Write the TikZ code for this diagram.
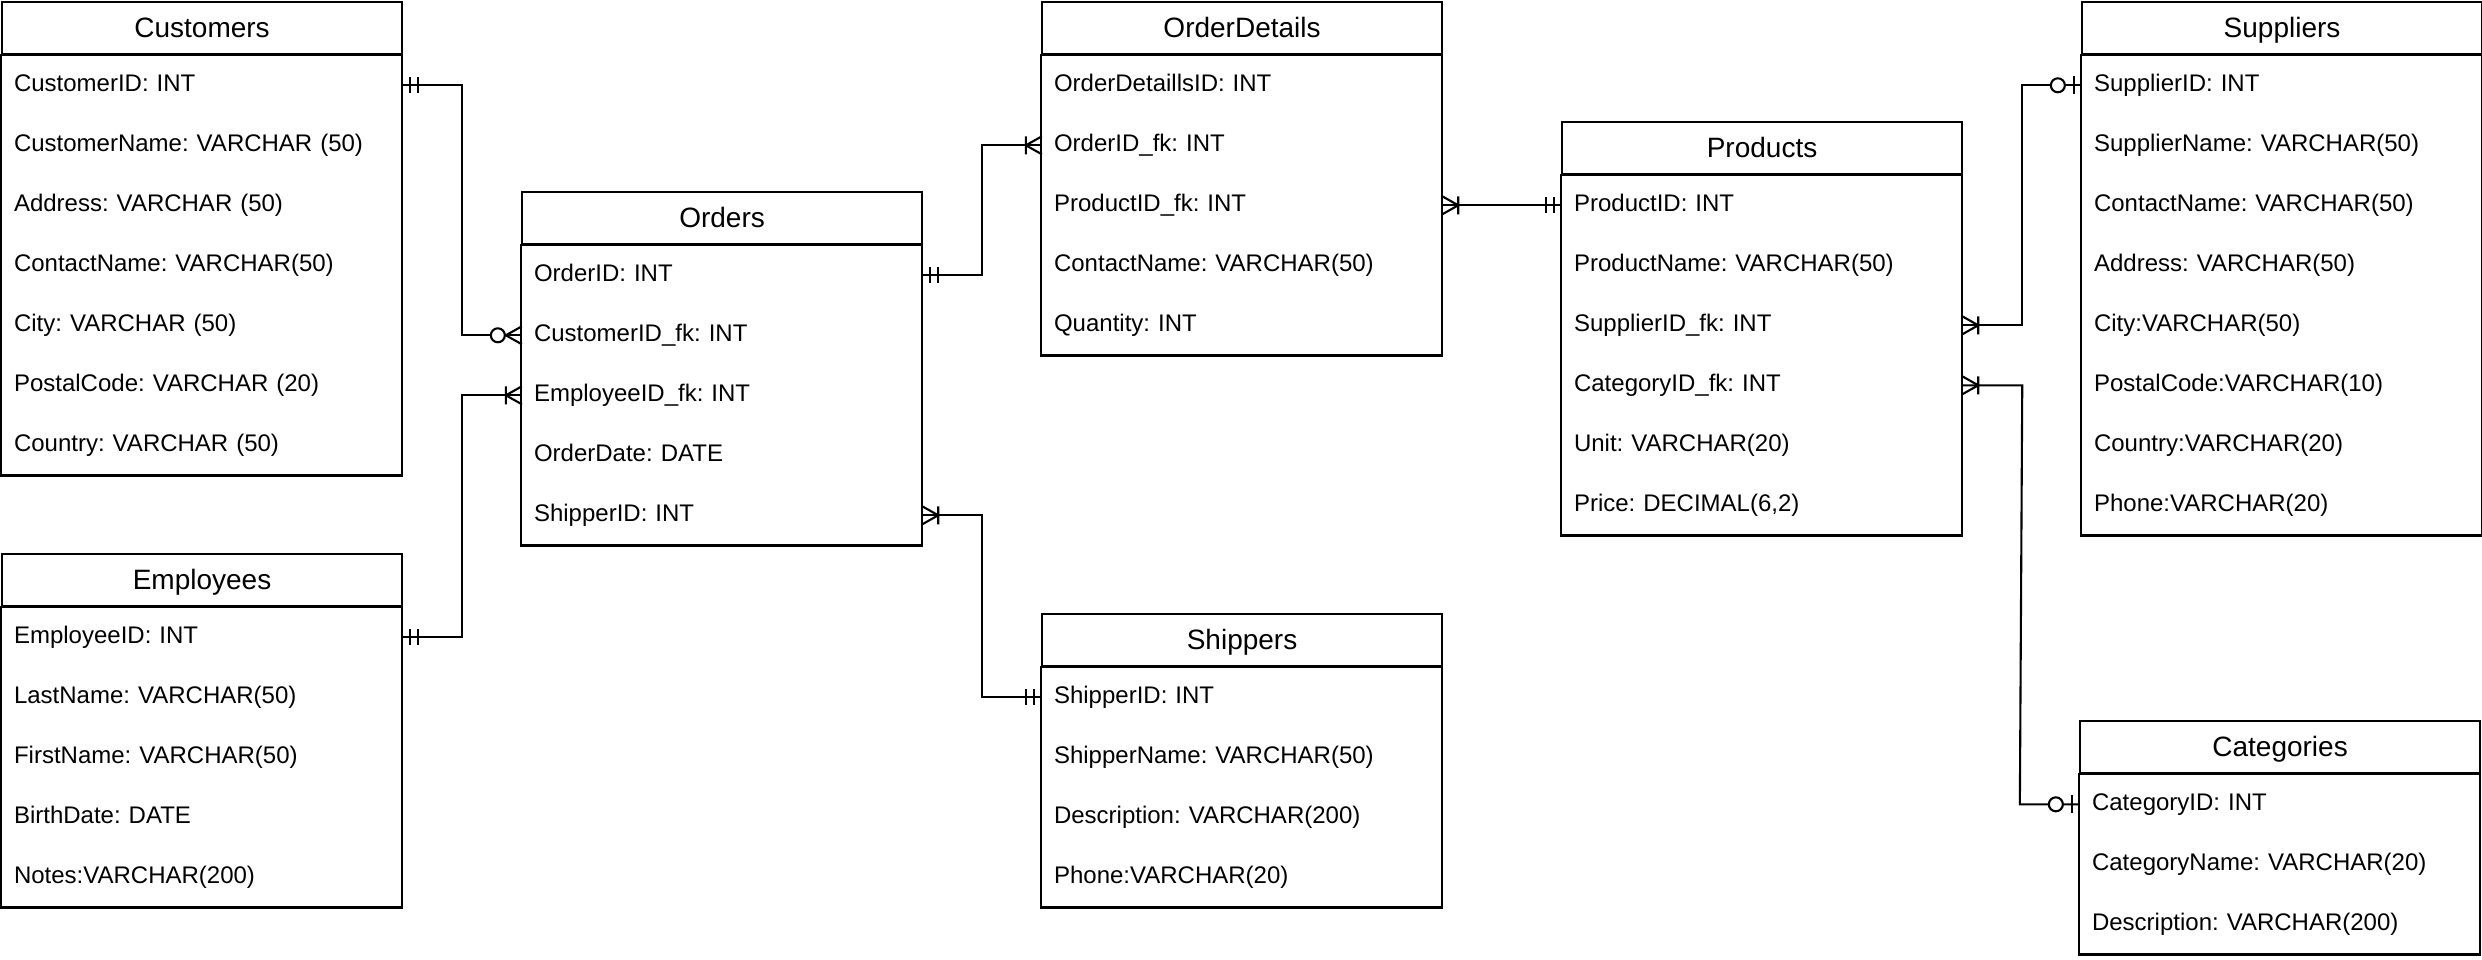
\documentclass[tikz,border=0pt]{standalone}
\usepackage{fontspec}
\setmainfont{Liberation Sans}
\usetikzlibrary{positioning}
\frenchspacing

\tikzset{
  link/.style={line width=2.1pt},
  tabhead/.style={draw, link, minimum width=400pt, minimum height=52pt, inner sep=0pt,
    anchor=north west, font=\fontsize{28}{32}\selectfont, text height=20pt, text depth=1pt},
  tabrow/.style={minimum height=60pt, text width=376pt, inner xsep=12pt, inner ysep=0pt,
    align=left, font=\fontsize{24}{28}\selectfont, text height=17pt, text depth=4pt},
  % crow's foot ends, drawn pointing away from the table
  mandone/.pic={\draw[link] (8,-8) -- (8,8) (16,-8) -- (16,8);},
  onemany/.pic={\draw[link] (0,-9) -- (16,0) -- (0,9) (16,-9) -- (16,9);},
  zeromany/.pic={\draw[link] (0,-9) -- (16,0) -- (0,9); \draw[link,fill=white] (24,0) circle (7);},
  zeroone/.pic={\draw[link] (8,-9) -- (8,9); \draw[link,fill=white] (24,0) circle (7);},
}

% name, title, top left, number of rows, rows
\newcommand{\ertable}[5]{%
  \node[tabhead] (#1) at (#3) {#2};
  \foreach \field [count=\i] in {#5}
    \node[tabrow, anchor=north] (#1-\i) at ([yshift={-60*(\i-1)}]#1.south) {\field};
  \draw[link] (#1.south west) rectangle (#1-#4.south east);
}

\begin{document}
\begin{tikzpicture}[x=1pt,y=-1pt]
  \fill[white, use as bounding box] (0,0) rectangle (2482,960);

  \ertable{cust}{Customers}{1,1}{7}{CustomerID: INT, CustomerName: VARCHAR (50),
    Address: VARCHAR (50), ContactName: VARCHAR(50), City: VARCHAR (50),
    PostalCode: VARCHAR (20), Country: VARCHAR (50)}
  \ertable{emp}{Employees}{1,553}{5}{EmployeeID: INT, LastName: VARCHAR(50),
    FirstName: VARCHAR(50), BirthDate: DATE, Notes:VARCHAR(200)}
  \ertable{ord}{Orders}{521,191}{5}{OrderID: INT, CustomerID\_fk: INT,
    EmployeeID\_fk: INT, OrderDate: DATE, ShipperID: INT}
  \ertable{odet}{OrderDetails}{1041,1}{5}{OrderDetaillsID: INT, OrderID\_fk: INT,
    ProductID\_fk: INT, ContactName: VARCHAR(50), Quantity: INT}
  \ertable{ship}{Shippers}{1041,613}{4}{ShipperID: INT, ShipperName: VARCHAR(50),
    Description: VARCHAR(200), Phone:VARCHAR(20)}
  \ertable{prod}{Products}{1561,121}{6}{ProductID: INT, ProductName: VARCHAR(50),
    SupplierID\_fk: INT, CategoryID\_fk: INT, Unit: VARCHAR(20), {Price: DECIMAL(6,2)}}
  \ertable{supp}{Suppliers}{2081,1}{8}{SupplierID: INT, SupplierName: VARCHAR(50),
    ContactName: VARCHAR(50), Address: VARCHAR(50), City:VARCHAR(50),
    PostalCode:VARCHAR(10), Country:VARCHAR(20), Phone:VARCHAR(20)}
  \ertable{cat}{Categories}{2079,720}{3}{CategoryID: INT, CategoryName: VARCHAR(20),
    Description: VARCHAR(200)}

  % relations
  \draw[link] (cust-1.east) -- ++(60,0) |- (ord-2.west);
  \draw[link] (emp-1.east) -- ++(60,0) |- (ord-3.west);
  \draw[link] (ord-1.east) -- ++(60,0) |- (odet-2.west);
  \draw[link] (ord-5.east) -- ++(60,0) |- (ship-1.west);
  \draw[link] (odet-3.east) -- (prod-1.west);
  \draw[link] (prod-3.east) -- ++(60,0) |- (supp-1.west);
  \draw[link] (prod-4.east) -- ++(60,0) -- ([xshift=-60pt]cat-1.west) -- (cat-1.west);

  \path (cust-1.east) pic {mandone};
  \path (ord-2.west) pic[xscale=-1] {zeromany};
  \path (emp-1.east) pic {mandone};
  \path (ord-3.west) pic[xscale=-1] {onemany};
  \path (ord-1.east) pic {mandone};
  \path (odet-2.west) pic[xscale=-1] {onemany};
  \path (ord-5.east) pic {onemany};
  \path (ship-1.west) pic[xscale=-1] {mandone};
  \path (odet-3.east) pic {onemany};
  \path (prod-1.west) pic[xscale=-1] {mandone};
  \path (prod-3.east) pic {onemany};
  \path (supp-1.west) pic[xscale=-1] {zeroone};
  \path (prod-4.east) pic {onemany};
  \path (cat-1.west) pic[xscale=-1] {zeroone};
\end{tikzpicture}
\end{document}
